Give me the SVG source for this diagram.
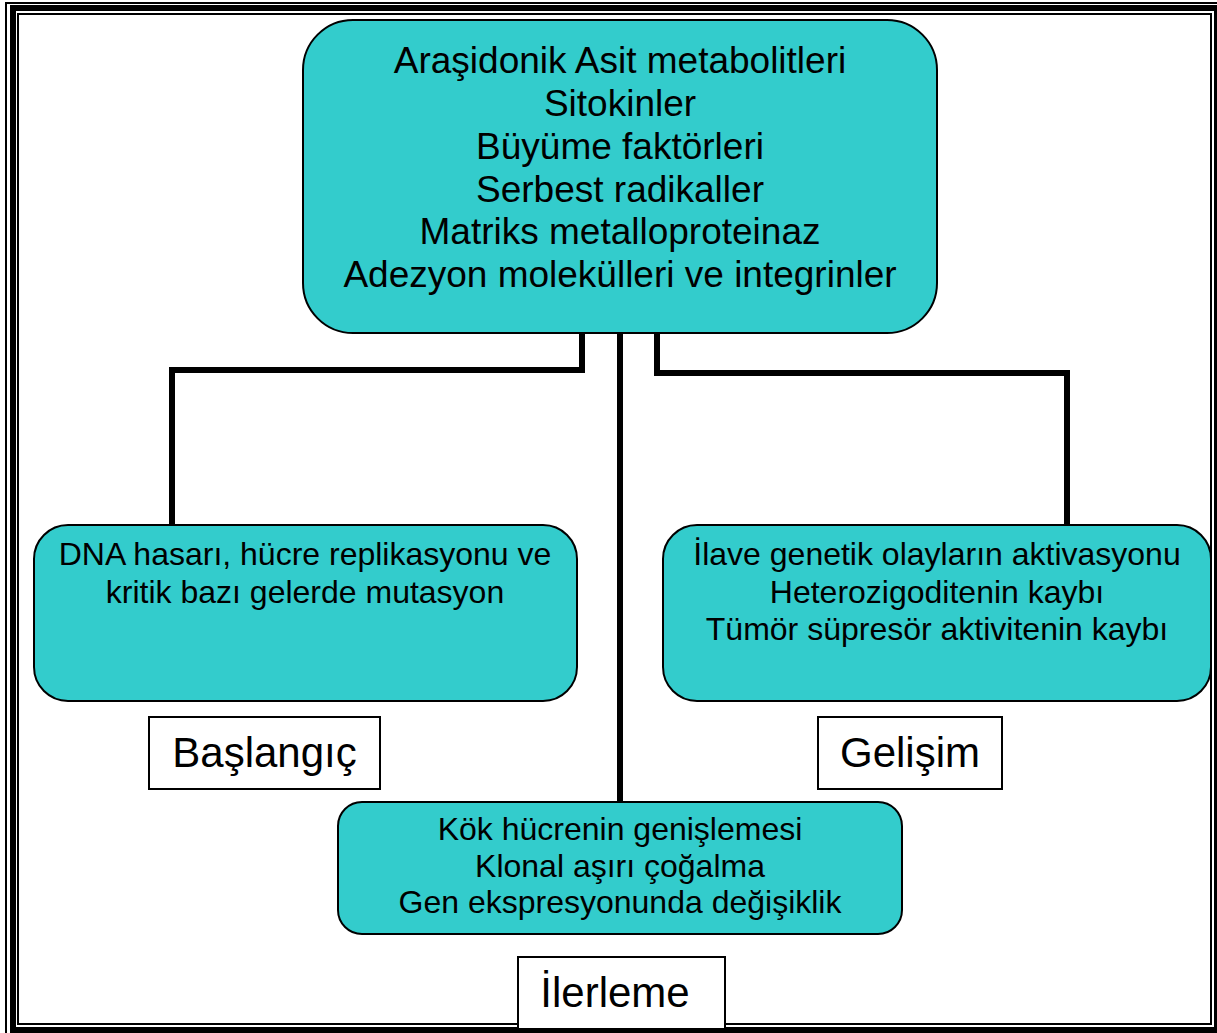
<svg xmlns="http://www.w3.org/2000/svg" width="1217" height="1033" viewBox="0 0 1217 1033">
<style>
.box{fill:#33CCCC;stroke:#000;stroke-width:2}
.lbl{fill:#fff;stroke:#000;stroke-width:2}
.t{font-family:"Liberation Sans",Arial,sans-serif;fill:#000;text-anchor:middle}
.conn{fill:none;stroke:#000;stroke-width:6;stroke-linejoin:miter}
.frame{fill:none;stroke:#000}
</style>
<rect x="0" y="0" width="1217" height="1033" fill="#fff"/>
<g id="frame">
<rect class="frame" x="6" y="3" width="1222" height="1042" stroke-width="2"/>
<rect class="frame" x="13" y="8" width="1204" height="1022" stroke-width="6"/>
<rect class="frame" x="18" y="14" width="1193" height="1010" stroke-width="2"/>
</g>
<g id="connectors">
<polyline class="conn" points="582,333 582,370 172,370 172,526"/>
<polyline class="conn" points="657,333 657,373 1067,373 1067,526"/>
<line class="conn" x1="620" y1="333" x2="620" y2="802"/>
</g>
<g id="top">
<rect class="box" x="303" y="20" width="634" height="313" rx="50" ry="50"/>
<text class="t" font-size="37" x="620" y="73">Araşidonik Asit metabolitleri</text>
<text class="t" font-size="37" x="620" y="116">Sitokinler</text>
<text class="t" font-size="37" x="620" y="159">Büyüme faktörleri</text>
<text class="t" font-size="37" x="620" y="202">Serbest radikaller</text>
<text class="t" font-size="37" x="620" y="244">Matriks metalloproteinaz</text>
<text class="t" font-size="37" x="620" y="287">Adezyon molekülleri ve integrinler</text>
</g>
<g id="left">
<rect class="box" x="34" y="525" width="543" height="176" rx="34" ry="34"/>
<text class="t" font-size="32" x="305" y="565">DNA hasarı, hücre replikasyonu ve</text>
<text class="t" font-size="32" x="305" y="603">kritik bazı gelerde mutasyon</text>
</g>
<g id="right">
<rect class="box" x="663" y="525" width="548" height="176" rx="34" ry="34"/>
<text class="t" font-size="32" x="937" y="565">İlave genetik olayların aktivasyonu</text>
<text class="t" font-size="32" x="937" y="603">Heterozigoditenin kaybı</text>
<text class="t" font-size="32" x="937" y="640">Tümör süpresör aktivitenin kaybı</text>
</g>
<g id="bottom">
<rect class="box" x="338" y="802" width="564" height="132" rx="24" ry="24"/>
<text class="t" font-size="32" x="620" y="840">Kök hücrenin genişlemesi</text>
<text class="t" font-size="32" x="620" y="877">Klonal aşırı çoğalma</text>
<text class="t" font-size="32" x="620" y="913">Gen ekspresyonunda değişiklik</text>
</g>
<g id="baslangic">
<rect class="lbl" x="149" y="717" width="231" height="72"/>
<text class="t" font-size="42" x="264.5" y="767">Başlangıç</text>
</g>
<g id="gelisim">
<rect class="lbl" x="818" y="717" width="184" height="72"/>
<text class="t" font-size="42" x="910" y="767">Gelişim</text>
</g>
<g id="ilerleme">
<rect class="lbl" x="518" y="957" width="207" height="72"/>
<text class="t" font-size="42" x="615" y="1007">İlerleme</text>
</g>
</svg>
